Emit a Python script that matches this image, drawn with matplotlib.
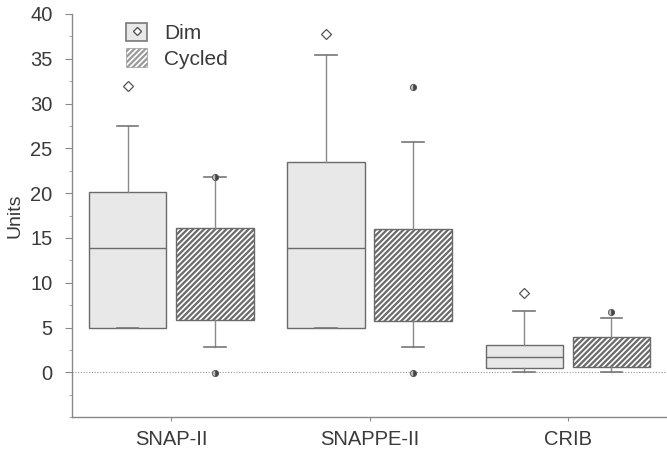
import numpy as np
import matplotlib
matplotlib.use('Agg')
import matplotlib.pyplot as plt
from matplotlib.patches import Patch
from matplotlib.lines import Line2D

plt.rcParams['font.family'] = ['Liberation Sans', 'DejaVu Sans']
plt.rcParams['hatch.linewidth'] = 1.6
plt.rcParams['hatch.color'] = '#3a3a3a'

groups = ['SNAP-II', 'SNAPPE-II', 'CRIB']

# Dim boxes
dim_q1 = [4.9, 4.9, 0.5]
dim_med = [13.9, 13.9, 1.7]
dim_q3 = [20.1, 23.5, 3.0]
dim_lo = [4.9, 4.9, 0.0]
dim_hi = [27.5, 35.4, 6.8]
dim_out = [[31.9], [37.8], [8.9]]

# Cycled boxes (median not drawn in the original)
cyc_q1 = [5.8, 5.7, 0.6]
cyc_q3 = [16.1, 16.0, 3.9]
cyc_lo = [2.8, 2.8, 0.0]
cyc_hi = [21.8, 25.7, 6.1]
cyc_out = [[21.8, -0.1], [31.8, -0.1], [6.7]]

def stats(q1, med, q3, lo, hi, out):
    return [dict(q1=a, med=m, q3=b, whislo=l, whishi=h, fliers=f)
            for a, m, b, l, h, f in zip(q1, med, q3, lo, hi, out)]

fig = plt.figure(figsize=(6.67, 4.49), dpi=100)
ax = fig.add_axes([0.108, 0.071, 0.892, 0.898])

x = np.arange(len(groups))
off = 0.22
w = 0.39
edge = '#6a6a6a'
txt = '#3a3a3a'

ax.axhline(0, color='#999999', lw=0.8, ls=(0, (1, 1.5)), zorder=0)

ax.bxp(stats(dim_q1, dim_med, dim_q3, dim_lo, dim_hi, dim_out),
       positions=x - off, widths=w, capwidths=0.11, patch_artist=True,
       boxprops=dict(facecolor='#e8e8e8', edgecolor=edge, lw=1.0),
       medianprops=dict(color='#6a6a6a', lw=1.0),
       whiskerprops=dict(color='#8a8a8a', lw=1.0),
       capprops=dict(color='#777777', lw=1.2),
       flierprops=dict(marker='D', markersize=5, markerfacecolor='white',
                       markeredgecolor='#555555', markeredgewidth=0.9))

ax.bxp(stats(cyc_q1, cyc_q1, cyc_q3, cyc_lo, cyc_hi, cyc_out),
       positions=x + off, widths=w, capwidths=0.11, patch_artist=True,
       boxprops=dict(facecolor='white', edgecolor=edge, lw=1.0, hatch='//////'),
       medianprops=dict(visible=False),
       whiskerprops=dict(color='#8a8a8a', lw=1.0),
       capprops=dict(color='#777777', lw=1.2),
       flierprops=dict(marker='o', markersize=4.5, fillstyle='right',
                       markerfacecolor='#444444', markerfacecoloralt='#bbbbbb',
                       markeredgecolor='#555555', markeredgewidth=0.6))

ax.set_xlim(-0.5, 2.5)
ax.set_ylim(-5, 40)
ax.set_xticks(x)
ax.set_xticklabels(groups, fontsize=14.5, color=txt)
ax.set_yticks(np.arange(0, 41, 5))
ax.set_yticks(np.arange(-5, 40, 2.5), minor=True)
ax.set_yticklabels([str(v) for v in range(0, 41, 5)], fontsize=14.5, color=txt)
ax.tick_params(axis='y', which='major', length=5, color='#888888', pad=9)
ax.tick_params(axis='y', which='minor', length=2.5, color='#999999')
ax.tick_params(axis='x', length=3, color='#888888', pad=6)
ax.set_ylabel('Units', fontsize=14, color=txt, labelpad=5)

for s in ['top', 'right']:
    ax.spines[s].set_visible(False)
for s in ['left', 'bottom']:
    ax.spines[s].set_color('#888888')
    ax.spines[s].set_linewidth(1.0)

h_dim = (Patch(facecolor='#e8e8e8', edgecolor='#777777', lw=1.2),
         Line2D([], [], ls='none', marker='D', markersize=4,
                markerfacecolor='white', markeredgecolor='#555555'))
h_cyc = Patch(facecolor='white', edgecolor='#999999', lw=0.5, hatch='//////')
ax.legend([h_dim, h_cyc], ['Dim', 'Cycled'], loc='upper left',
          bbox_to_anchor=(0.06, 1.025), frameon=False, fontsize=15,
          handlelength=1.0, handleheight=1.0, handletextpad=0.8,
          labelspacing=0.25, labelcolor=txt)

fig.savefig('out.png', dpi=100)
